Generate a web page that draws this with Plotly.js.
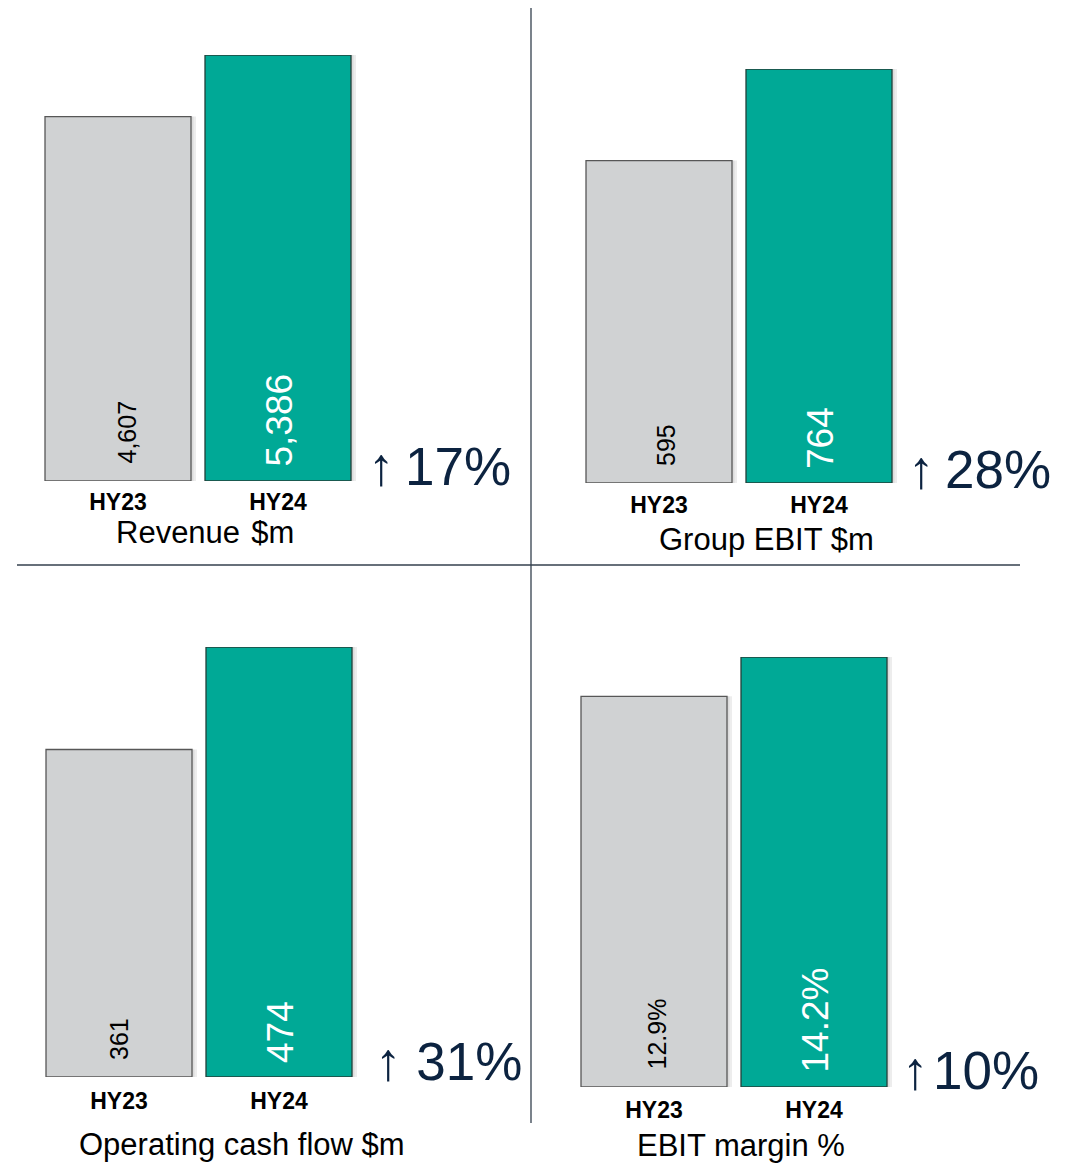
<!DOCTYPE html>
<html><head><meta charset="utf-8">
<script src="https://cdn.plot.ly/plotly-3.0.1.min.js"></script>
<style>html,body{margin:0;padding:0;background:#fff}</style>
</head><body><div id="chart" style="width:1073px;height:1163px"></div>
<script>
// ---- data ----
const periods = ['HY23', 'HY24'];
const revenue = [4607, 5386];
const groupEbit = [595, 764];
const operatingCashFlow = [361, 474];
const ebitMargin = [12.9, 14.2];
const panelTitles = ['Revenue\u200a $m', 'Group EBIT $m', 'Operating cash flow $m', 'EBIT margin %'];
const changeLabels = ['↑\u200917%', '↑\u200928%', '↑ 31%', '↑\u200a10%'];

// ---- layout geometry (pixels) ----
const W = 1073, H = 1163;
const FONT = 'Liberation Sans, Arial, sans-serif';
const GRAY = '#d0d2d3', TEAL = '#00a996';
const panels = [
  {vals: revenue, fmt: v => v.toLocaleString('en-US'), x0: 38, x1: 358, yb: 481, yt: 55, tl: 0, gx: 8, tx: 205, ty: 532, cx: 366, cy: 466},
  {vals: groupEbit, fmt: v => v.toLocaleString('en-US'), x0: 579, x1: 899, yb: 483, yt: 69, tl: 1, gx: 7, tx: 766, ty: 539, cx: 906, cy: 469},
  {vals: operatingCashFlow, fmt: v => v.toLocaleString('en-US'), x0: 39, x1: 359, yb: 1077, yt: 647, tl: 3, gx: 0, tx: 242, ty: 1144, cx: 373, cy: 1061},
  {vals: ebitMargin, fmt: v => v.toFixed(1) + '%', x0: 574, x1: 894, yb: 1087, yt: 657, tl: 2, gx: 2, tx: 741, ty: 1145, cx: 900, cy: 1070}
];
const BARW = 146 / 160;

const traces = [];
const annotations = [];
const layout = {
  width: W, height: H,
  margin: {l: 0, r: 0, t: 0, b: 0},
  paper_bgcolor: '#ffffff', plot_bgcolor: 'rgba(0,0,0,0)',
  showlegend: false, barmode: 'overlay',
  font: {family: FONT, color: '#000'},
  shapes: [
    {type: 'line', xref: 'paper', yref: 'paper', x0: 531 / W, x1: 531 / W, y0: 1 - 8 / H, y1: 1 - 1123 / H, line: {color: '#34404e', width: 1.3}},
    {type: 'line', xref: 'paper', yref: 'paper', x0: 17 / W, x1: 1020 / W, y0: 1 - 565 / H, y1: 1 - 565 / H, line: {color: '#34404e', width: 1.3}}
  ],
  annotations: annotations
};

panels.forEach((p, i) => {
  const sfx = i === 0 ? '' : String(i + 1);
  const xa = 'x' + sfx, ya = 'y' + sfx;
  // soft shadow to the right of each bar
  [[5, 0.07], [2.5, 0.07]].forEach(([sh, op]) => {
    traces.push({
      type: 'bar', x: periods, y: p.vals, xaxis: xa, yaxis: ya,
      width: BARW, offset: -BARW / 2 + sh / 160,
      marker: {color: 'rgba(0,0,0,' + op + ')', line: {width: 0}},
      hoverinfo: 'skip', cliponaxis: false
    });
  });
  traces.push({
    type: 'bar', x: periods, y: p.vals, xaxis: xa, yaxis: ya,
    width: BARW,
    marker: {color: [GRAY, TEAL], line: {color: ['#575757', '#22403a'], width: 1.3}},
    hoverinfo: 'none', cliponaxis: false
  });
  layout['xaxis' + sfx] = {
    domain: [p.x0 / W, p.x1 / W], anchor: ya, type: 'category',
    categoryorder: 'array', categoryarray: periods,
    range: [-0.5, 1.5], showgrid: false, zeroline: false, showline: false,
    ticks: 'outside', ticklen: p.tl, tickcolor: 'rgba(0,0,0,0)',
    tickfont: {family: FONT, size: 23, weight: 'bold', color: '#000'},
    fixedrange: true
  };
  layout['yaxis' + sfx] = {
    domain: [1 - p.yb / H, 1 - p.yt / H], anchor: xa,
    range: [0, Math.max(...p.vals)], visible: false, fixedrange: true
  };
  // value labels inside bars
  p.vals.forEach((v, j) => {
    annotations.push({
      xref: xa, yref: ya, x: periods[j], y: 0,
      text: p.fmt(v), textangle: -90, showarrow: false,
      xanchor: 'center', yanchor: 'bottom', yshift: j === 0 ? 15 : 12, xshift: j === 0 ? p.gx : 1,
      font: {family: FONT, size: j === 0 ? 25 : 37, color: j === 0 ? '#000' : '#fff'}
    });
  });
  // panel title
  annotations.push({
    xref: 'paper', yref: 'paper', x: p.tx / W, y: 1 - p.ty / H,
    xanchor: 'center', yanchor: 'middle', showarrow: false,
    text: panelTitles[i], font: {family: FONT, size: 31, color: '#000'}
  });
  // change label
  annotations.push({
    xref: 'paper', yref: 'paper', x: p.cx / W, y: 1 - p.cy / H,
    xanchor: 'left', yanchor: 'middle', showarrow: false,
    text: changeLabels[i], font: {family: FONT, size: 53, color: '#0c2340'}
  });
});

Plotly.newPlot('chart', traces, layout, {displayModeBar: false, staticPlot: true});
</script>
</body></html>
